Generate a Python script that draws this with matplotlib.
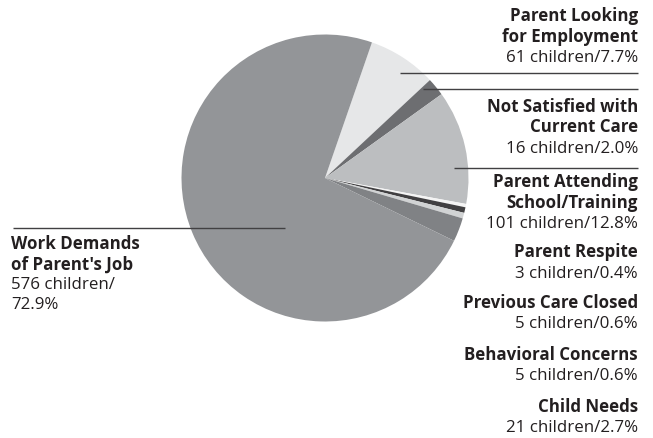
import matplotlib.pyplot as plt

# reasons for care, clockwise from the top
names = ['Parent Looking\nfor Employment', 'Not Satisfied with\nCurrent Care',
         'Parent Attending\nSchool/Training', 'Parent Respite', 'Previous Care Closed',
         'Behavioral Concerns', 'Child Needs', "Work Demands\nof Parent's Job"]
children = [61, 16, 101, 3, 5, 5, 21, 576]
percents = ['7.7%', '2.0%', '12.8%', '0.4%', '0.6%', '0.6%', '2.7%', '72.9%']
colors = ['#e6e7e8', '#6d6e71', '#bcbec0', '#f4f4f4', '#414042', '#d1d3d4', '#808285', '#939598']

W, H = 653, 438
fig = plt.figure(figsize=(W / 100, H / 100), dpi=100)
ax = fig.add_axes([0, 0, 1, 1])

cx, cy, r = 325, 178, 143.5
wedges, _ = ax.pie(children, colors=colors, startangle=-70.9, counterclock=True,
                   center=(cx, cy), radius=r, frame=True,
                   wedgeprops=dict(linewidth=0))
ax.set_xlim(0, W)
ax.set_ylim(H, 0)
ax.set_aspect('equal')
ax.axis('off')

txt = '#231f20'
font = 'Open Sans'
fs = 12.2
ls = 20.5

# leader lines
line_col = '#414042'
for x0, x1, y in [(400, 638, 72.5), (423, 638, 89), (454, 638, 168), (13, 285, 227.5)]:
    ax.plot([x0, x1], [y, y], color=line_col, lw=1.0, solid_capstyle='butt')

# right-hand labels, y of the first line of each block
right_y = [16, 107, 182, 252, 303, 355, 407]
for i, y in enumerate(right_y):
    head = names[i].split('\n')
    for j, t in enumerate(head):
        ax.text(638, y + j * ls, t, ha='right', va='center', fontsize=fs,
                fontweight='bold', family=font, color=txt)
    ax.text(638, y + len(head) * ls + 1, f'{children[i]} children/{percents[i]}',
            ha='right', va='center', fontsize=fs, family=font, color=txt)

# left label
head = names[7].split('\n')
for j, t in enumerate(head):
    ax.text(11, 244 + j * ls, t, ha='left', va='center', fontsize=fs,
            fontweight='bold', family=font, color=txt)
ax.text(11, 285, f'{children[7]} children/', ha='left', va='center', fontsize=fs,
        family=font, color=txt)
ax.text(11, 305, percents[7], ha='left', va='center', fontsize=fs, family=font, color=txt)

fig.savefig('out.png', dpi=100)
